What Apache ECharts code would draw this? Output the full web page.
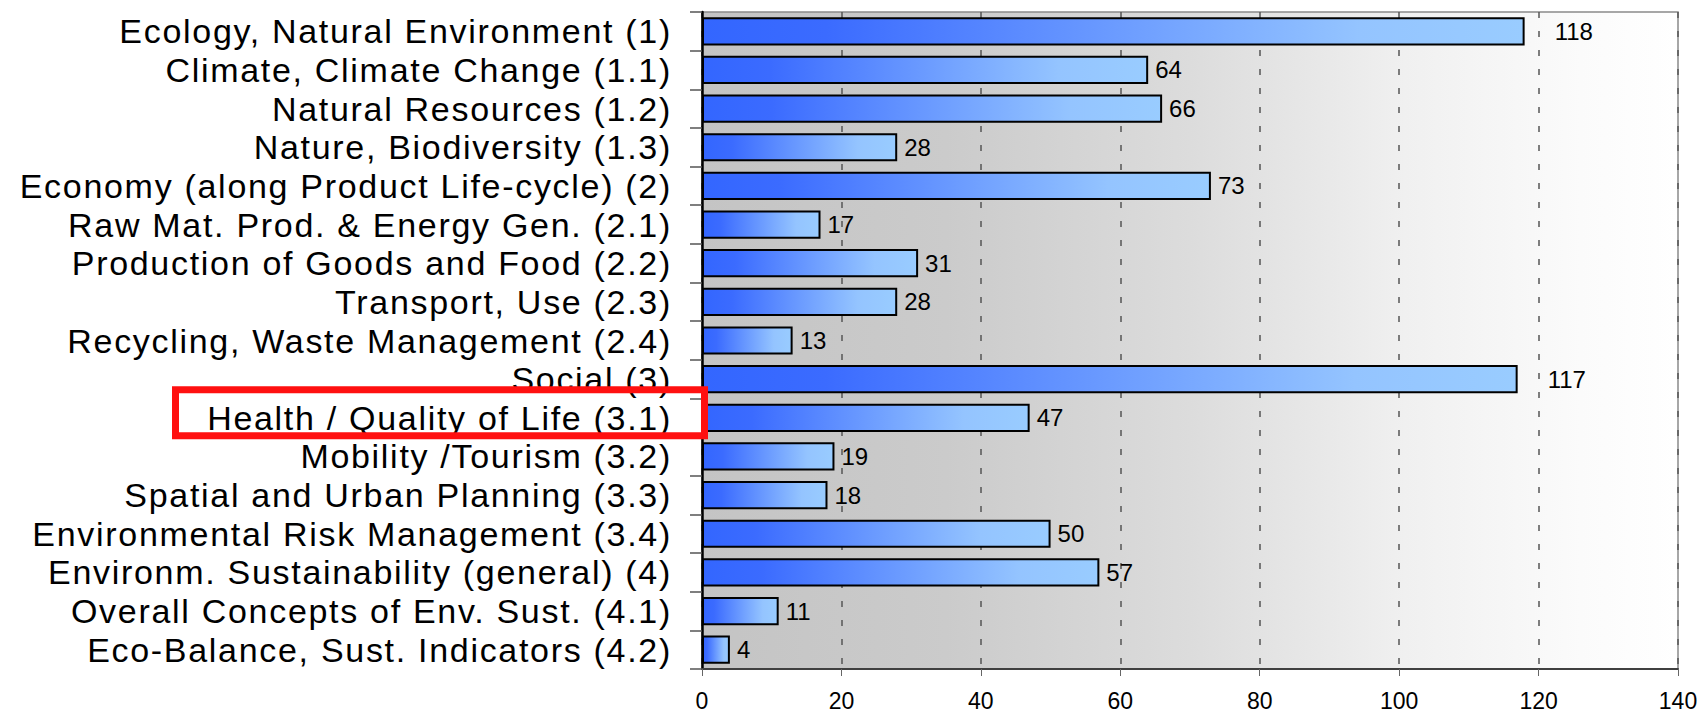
<!DOCTYPE html>
<html>
<head>
<meta charset="utf-8">
<title>Topics</title>
<script src="https://cdn.jsdelivr.net/npm/echarts@6/dist/echarts.min.js"></script>
<style>
    html, body { margin: 0; padding: 0; background: #ffffff; }
    #main { width: 1708px; height: 712px; }
    /* the category labels in the original are widely spaced */
    #main text[style*="34px"] { letter-spacing: 1.7px; }
</style>
</head>
<body>
<div id="main"></div>
<script>
    // categories, top to bottom
    var topics = [
        'Ecology, Natural Environment (1)',
        'Climate, Climate Change (1.1)',
        'Natural Resources (1.2)',
        'Nature, Biodiversity (1.3)',
        'Economy (along Product Life-cycle) (2)',
        'Raw Mat. Prod. & Energy Gen. (2.1)',
        'Production of Goods and Food (2.2)',
        'Transport, Use (2.3)',
        'Recycling, Waste Management (2.4)',
        'Social (3)',
        'Health / Quality of Life (3.1)',
        'Mobility /Tourism (3.2)',
        'Spatial and Urban Planning (3.3)',
        'Environmental Risk Management (3.4)',
        'Environm. Sustainability (general) (4)',
        'Overall Concepts of Env. Sust. (4.1)',
        'Eco-Balance, Sust. Indicators (4.2)'
    ];
    var counts = [118, 64, 66, 28, 73, 17, 31, 28, 13, 117, 47, 19, 18, 50, 57, 11, 4];
    var xTicks = [0, 20, 40, 60, 80, 100, 120, 140];
    var highlighted = 'Health / Quality of Life (3.1)';

    var myChart = echarts.init(document.getElementById('main'), null, { renderer: 'svg' });

    var barFill = new echarts.graphic.LinearGradient(0, 0, 1, 0, [
        { offset: 0, color: '#3366ff' },
        { offset: 0.15, color: '#3b6bff' },
        { offset: 0.8, color: '#94c4ff' },
        { offset: 1, color: '#99ccff' }
    ]);

    var option = {
        animation: false,
        textStyle: { fontFamily: 'Liberation Sans' },
        grid: {
            left: 702,
            right: 30,
            top: 12,
            bottom: 42,
            show: true,
            borderColor: '#8a8a8a',
            borderWidth: 1.5,
            backgroundColor: new echarts.graphic.LinearGradient(0, 0, 1, 0, [
                { offset: 0, color: '#c4c4c4' },
                { offset: 0.25, color: '#cbcbcb' },
                { offset: 0.5, color: '#dcdcdc' },
                { offset: 0.72, color: '#f0f0f0' },
                { offset: 0.9, color: '#fbfbfb' },
                { offset: 1, color: '#ffffff' }
            ])
        },
        xAxis: {
            type: 'value',
            min: xTicks[0],
            max: xTicks[xTicks.length - 1],
            interval: xTicks[1] - xTicks[0],
            axisLine: { show: true, lineStyle: { color: '#404040', width: 2 } },
            axisTick: { show: true, length: 7, lineStyle: { color: '#666666', width: 1 } },
            axisLabel: { fontSize: 23, color: '#000000', margin: 20 },
            splitLine: {
                show: true,
                lineStyle: { color: '#555555', width: 1.5, type: [6, 13] }
            }
        },
        yAxis: {
            type: 'category',
            inverse: true,
            data: topics,
            axisLine: { show: true, lineStyle: { color: '#000000', width: 2.5 } },
            axisTick: { show: true, length: 12, lineStyle: { color: '#555555', width: 1.5 } },
            axisLabel: {
                fontSize: 34,
                color: '#000000',
                margin: 30,
                interval: 0,
                padding: [0, 0, 4, 0]   // sits a touch above the row centre
            },
            splitLine: { show: false }
        },
        series: [
            {
                type: 'bar',
                barCategoryGap: '27%',
                data: counts.map(function (v) {
                    // the two longest bars carry their label past the 120 gridline
                    return { value: v, label: { distance: v > 100 ? 30 : 7 } };
                }),
                itemStyle: {
                    color: barFill,
                    borderColor: '#000000',
                    borderWidth: 2
                },
                label: {
                    show: true,
                    position: 'right',
                    fontSize: 24,
                    color: '#000000'
                }
            }
        ]
    };

    myChart.setOption(option);

    // red frame around the highlighted category label
    var cy = myChart.convertToPixel({ yAxisIndex: 0 }, topics.indexOf(highlighted));
    var x0 = myChart.convertToPixel({ xAxisIndex: 0 }, 0);
    myChart.setOption({
        graphic: [{
            type: 'rect',
            z: 100,
            shape: { x: 175.5, y: cy - 28, width: x0 + 2.5 - 175.5, height: 46 },
            style: { fill: 'none', stroke: '#ff1010', lineWidth: 7 }
        }]
    });
</script>
</body>
</html>
